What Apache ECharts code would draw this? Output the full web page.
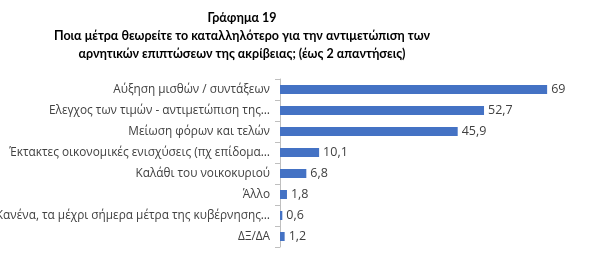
<!DOCTYPE html>
<html><head><meta charset="utf-8">
<script src="https://cdn.jsdelivr.net/npm/echarts@6/dist/echarts.min.js"></script>
<style>html,body{margin:0;padding:0;background:#fff}#c{width:600px;height:258px}</style>
</head><body><div id="c"></div>
<script>
const titleLines = ['Γράφημα 19','Ποια μέτρα θεωρείτε το καταλληλότερο για την αντιμετώπιση των','αρνητικών επιπτώσεων της ακρίβειας; (έως 2 απαντήσεις)'];
const categories = ['Αύξηση μισθών / συντάξεων','Ελεγχος των τιμών - αντιμετώπιση της…','Μείωση φόρων και τελών','Έκτακτες οικονομικές ενισχύσεις (πχ επίδομα…','Καλάθι του νοικοκυριού','Άλλο','Κανένα, τα μέχρι σήμερα μέτρα της κυβέρνησης…','ΔΞ/ΔΑ'];
const values = [69, 52.7, 45.9, 10.1, 6.8, 1.8, 0.6, 1.2];
const chart = echarts.init(document.getElementById('c'));
chart.setOption({
  animation:false,
  title:{text:titleLines.join('\n'),left:237,top:4,textAlign:'center',
    textStyle:{fontFamily:'Lato',fontSize:12.5,fontWeight:'bold',color:'#000',lineHeight:18}},
  grid:{left:280,right:49,top:79,bottom:11,containLabel:false,outerBoundsMode:'none'},
  xAxis:{type:'value',min:0,max:70,show:false},
  yAxis:{type:'category',data:categories,inverse:true,
    axisLine:{show:true,lineStyle:{color:'#bfbfbf'}},
    axisTick:{show:true,length:5,lineStyle:{color:'#bfbfbf'}},
    axisLabel:{fontFamily:'Open Sans',fontSize:11.8,color:'#404040',margin:10}},
  series:[{type:'bar',data:values,barCategoryGap:'57%',itemStyle:{color:'#4472C4'},
    label:{show:true,position:'right',distance:4,fontFamily:'Open Sans',fontSize:12.5,color:'#404040',
      formatter:p=>String(p.value).replace('.',',')}}]
});
</script></body></html>
